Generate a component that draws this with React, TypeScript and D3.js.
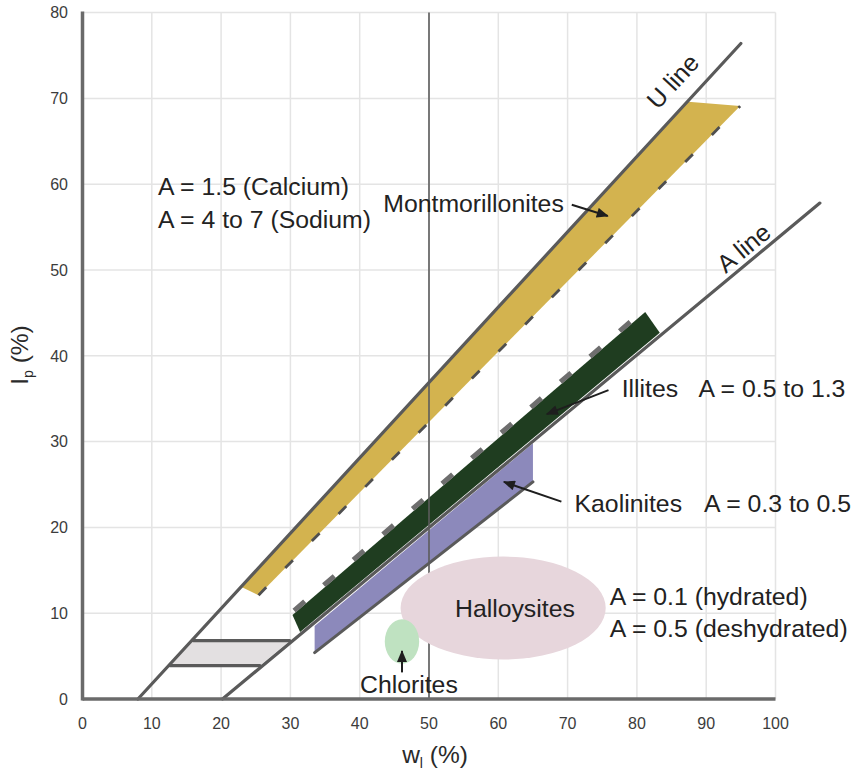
import React from 'react';
import * as d3 from 'd3';

type P = [number, number];

const xTicks = [0, 10, 20, 30, 40, 50, 60, 70, 80, 90, 100];
const yTicks = [0, 10, 20, 30, 40, 50, 60, 70, 80];

const uLine: P[] = [[8, 0], [95, 76.4]];
const aLine: P[] = [[20.2, 0], [106.4, 57.8]];
const refLine50: P[] = [[50, 0], [50, 80]];

const montmorillonites: P[] = [[22.8, 13.1], [87.4, 69.6], [94.9, 69.1], [25.4, 12.1]];
const montDash: P[] = [[25.4, 12.1], [94.9, 69.1]];
const illites: P[] = [[30.3, 9.8], [81.2, 45.1], [83.3, 42.7], [31.4, 7.8]];
const illiteDash: P[] = [[30.1, 10.0], [81.0, 45.3]];
const kaolinites: P[] = [[33.5, 8.5], [65, 29.8], [65, 25.3], [33.5, 5.4]];
const kaoliniteBase: P[] = [[33.5, 5.4], [65, 25.3]];
const clmlZone: P[] = [[12.6, 3.9], [16.0, 6.8], [29.9, 6.8], [25.6, 3.9]];
const clmlTop: P[] = [[16.0, 6.8], [29.9, 6.8]];
const clmlBottom: P[] = [[12.6, 3.9], [25.6, 3.9]];

const halloysites = { cx: 60.7, cy: 10.6, rx: 14.8, ry: 6.0 };
const chlorites = { cx: 46.1, cy: 6.7, rx: 2.48, ry: 2.6 };

const arrows: { from: P; to: P }[] = [
  { from: [70.6, 57.6], to: [75.8, 56.3] },
  { from: [75.9, 36.0], to: [67.0, 33.2] },
  { from: [69.1, 23.0], to: [60.8, 25.3] },
  { from: [46.1, 3.1], to: [46.1, 5.6] },
];

const labels: { text: string; x: number; y: number; anchor?: string }[] = [
  { text: 'A = 1.5 (Calcium)', x: 10.9, y: 58.7 },
  { text: 'A = 4 to 7 (Sodium)', x: 10.9, y: 54.85 },
  { text: 'Montmorillonites', x: 43.4, y: 56.8 },
  { text: 'Illites', x: 77.8, y: 35.2 },
  { text: 'A = 0.5 to 1.3', x: 88.9, y: 35.2 },
  { text: 'Kaolinites', x: 71.0, y: 21.8 },
  { text: 'A = 0.3 to 0.5', x: 89.7, y: 21.8 },
  { text: 'Halloysites', x: 62.4, y: 9.6, anchor: 'middle' },
  { text: 'A = 0.1 (hydrated)', x: 76.1, y: 10.95 },
  { text: 'A = 0.5 (deshydrated)', x: 76.1, y: 7.2 },
  { text: 'Chlorites', x: 47.1, y: 0.7, anchor: 'middle' },
];

const lineLabels: { text: string; line: P[]; x: number; y: number }[] = [
  { text: 'U line', line: uLine, x: 86.1, y: 71.3 },
  { text: 'A line', line: aLine, x: 96.2, y: 51.8 },
];

const FONT = '"Liberation Sans", Arial, Helvetica, sans-serif';

export default function App() {
  const W = 854;
  const H = 770;
  const x = d3.scaleLinear().domain([0, 100]).range([82.5, 775.5]);
  const y = d3.scaleLinear().domain([0, 80]).range([699, 12.6]);
  const line = d3
    .line<P>()
    .x((d) => x(d[0]))
    .y((d) => y(d[1]));
  const poly = (pts: P[]) => (line(pts) || '') + 'Z';
  const angle = (pts: P[]) =>
    (Math.atan2(y(pts[1][1]) - y(pts[0][1]), x(pts[1][0]) - x(pts[0][0])) * 180) / Math.PI;

  const lineColor = '#5a5a5a';

  return (
    <svg
      width={W}
      height={H}
      style={{ position: 'absolute', left: 0, top: 0, background: '#fff' }}
      fontFamily={FONT}
    >
      <defs>
        <marker
          id="arr"
          viewBox="0 0 12 10"
          refX="11"
          refY="5"
          markerWidth="13"
          markerHeight="10"
          markerUnits="userSpaceOnUse"
          orient="auto"
        >
          <path d="M0,0 L12,5 L0,10 Z" fill="#1e1e1e" />
        </marker>
      </defs>

      {/* grid */}
      <g stroke="#e4e4e4" strokeWidth={1.5}>
        {yTicks.map((t) => (
          <line key={'gy' + t} x1={x(0)} x2={x(100)} y1={y(t)} y2={y(t)} />
        ))}
        {xTicks.map((t) => (
          <line key={'gx' + t} x1={x(t)} x2={x(t)} y1={y(0)} y2={y(80)} />
        ))}
      </g>

      {/* zones */}
      <path d={poly(montmorillonites)} fill="#d3b34f" />
      <path d={poly(kaolinites)} fill="#8c89bb" />
      <path d={poly(illites)} fill="#1f3d20" />
      <path d={poly(clmlZone)} fill="#e3e0e1" />

      {/* wL = 50 line */}
      <path d={line(refLine50) || ''} stroke="#5c5c5c" strokeWidth={1.6} fill="none" />

      {/* ellipses */}
      <ellipse
        cx={x(halloysites.cx)}
        cy={y(halloysites.cy)}
        rx={x(halloysites.rx) - x(0)}
        ry={y(0) - y(halloysites.ry)}
        fill="#e7d6dc"
      />
      <ellipse
        cx={x(chlorites.cx)}
        cy={y(chlorites.cy)}
        rx={x(chlorites.rx) - x(0)}
        ry={y(0) - y(chlorites.ry)}
        fill="#bfe2c1"
      />

      {/* boundary lines */}
      <g stroke={lineColor} strokeWidth={3.2} fill="none" strokeLinecap="round">
        <path d={line(uLine) || ''} />
        <path d={line(aLine) || ''} />
        <path d={line(kaoliniteBase) || ''} strokeWidth={3} />
        <path d={line(clmlTop) || ''} />
        <path d={line(clmlBottom) || ''} />
      </g>

      {/* dashed edges */}
      <path
        d={line(montDash) || ''}
        stroke="#4f4f4f"
        strokeWidth={2.8}
        strokeDasharray="11 27"
        fill="none"
      />
      <path
        d={line(illiteDash) || ''}
        stroke="#6e6e6e"
        strokeWidth={5}
        strokeDasharray="14 25"
        strokeDashoffset={-4}
        fill="none"
      />

      {/* axes */}
      <line x1={x(0)} x2={x(0)} y1={y(0) + 1.5} y2={y(80) - 1} stroke="#6a6a6a" strokeWidth={3.5} />
      <line x1={x(0)} x2={x(100)} y1={y(0)} y2={y(0)} stroke="#6a6a6a" strokeWidth={3.5} />

      {/* tick labels */}
      <g fontSize={16} fill="#3c3c3c">
        {yTicks.map((t) => (
          <text key={'ty' + t} x={68} y={y(t)} dy="0.36em" textAnchor="end">
            {t}
          </text>
        ))}
        {xTicks.map((t) => (
          <text key={'tx' + t} x={x(t)} y={y(0) + 30} textAnchor="middle">
            {t}
          </text>
        ))}
      </g>

      {/* axis titles */}
      <text x={435} y={763} textAnchor="middle" fontSize={24.5} fill="#2a2a2a">
        w
        <tspan fontSize={14} dy={5}>
          l
        </tspan>
        <tspan dy={-5}> (%)</tspan>
      </text>
      <text transform="translate(28,355) rotate(-90)" textAnchor="middle" fontSize={24.5} fill="#2a2a2a">
        I
        <tspan fontSize={14} dy={5}>
          p
        </tspan>
        <tspan dy={-5}> (%)</tspan>
      </text>

      {/* arrows */}
      <g stroke="#1e1e1e" strokeWidth={2}>
        {arrows.map((a, i) => (
          <line
            key={'a' + i}
            x1={x(a.from[0])}
            y1={y(a.from[1])}
            x2={x(a.to[0])}
            y2={y(a.to[1])}
            markerEnd="url(#arr)"
          />
        ))}
      </g>

      {/* labels */}
      <g fontSize={24.8} fill="#222">
        {labels.map((l, i) => (
          <text key={'l' + i} x={x(l.x)} y={y(l.y)} textAnchor={l.anchor || 'start'}>
            {l.text}
          </text>
        ))}
        {lineLabels.map((l, i) => (
          <text
            key={'ll' + i}
            textAnchor="middle"
            transform={`translate(${x(l.x)},${y(l.y)}) rotate(${angle(l.line)})`}
          >
            {l.text}
          </text>
        ))}
      </g>
    </svg>
  );
}
